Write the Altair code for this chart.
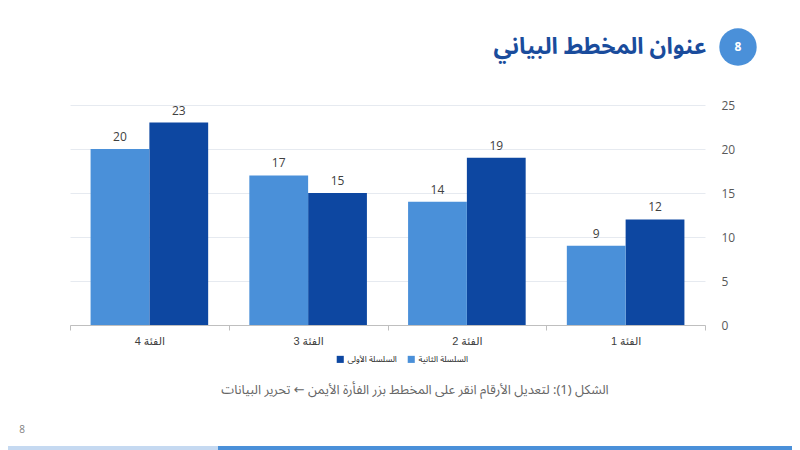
import altair as alt
import pandas as pd

categories = ['الفئة 1', 'الفئة 2', 'الفئة 3', 'الفئة 4']
series_names = ['السلسلة الأولى', 'السلسلة الثانية']
series1 = [12, 19, 15, 23]
series2 = [9, 14, 17, 20]
y_ticks = [0, 5, 10, 15, 20, 25]

title_text = 'عنوان المخطط البياني'
caption_text = 'الشكل (1): لتعديل الأرقام انقر على المخطط بزر الفأرة الأيمن ← تحرير البيانات'
slide_no = '8'

DARK = '#0D47A1'
LIGHT = '#4A90D9'
AR_FONT = 'Noto Sans Arabic, DejaVu Sans, sans-serif'

rows = []
for c, a, b in zip(categories, series1, series2):
    rows.append({'cat': c, 'series': series_names[0], 'value': a})
    rows.append({'cat': c, 'series': series_names[1], 'value': b})
df = pd.DataFrame(rows)

x_enc = alt.X('cat:N', sort=categories[::-1],
              scale=alt.Scale(paddingInner=0, paddingOuter=0),
              axis=alt.Axis(title=None, labelAngle=0, tickBand='extent',
                            tickSize=5, tickColor='#BFBFBF', domainColor='#BFBFBF',
                            labelFont='Liberation Sans, DejaVu Sans', labelFontSize=11,
                            labelColor='#404040', labelPadding=5, grid=False))
xoff_enc = alt.XOffset('series:N',
                       scale=alt.Scale(domain=series_names[::-1],
                                       paddingOuter=0.35, paddingInner=0))

base = alt.Chart(df)

bars = base.mark_bar().encode(
    x=x_enc,
    xOffset=xoff_enc,
    y=alt.Y('value:Q', scale=alt.Scale(domain=[0, 25], nice=False),
            axis=alt.Axis(title=None, orient='right', values=y_ticks,
                          domain=False, ticks=False, labelPadding=16,
                          labelFont='Open Sans', labelFontSize=12,
                          labelColor='#595959', gridColor='#E6EAF0')),
    color=alt.Color('series:N',
                    scale=alt.Scale(domain=series_names, range=[DARK, LIGHT]),
                    legend=alt.Legend(title=None, orient='none', direction='horizontal',
                                      legendX=266, legendY=250,
                                      symbolType='square', symbolSize=50,
                                      symbolStrokeWidth=0, labelFont=AR_FONT,
                                      labelFontSize=8.5, labelColor='#262626',
                                      labelOffset=3, columnPadding=10)),
)

labels = base.mark_text(baseline='bottom', dy=-5, font='Open Sans',
                        fontSize=12, color='#404040').encode(
    x=x_enc,
    xOffset=xoff_enc,
    y='value:Q',
    text='value:Q',
)

deco = pd.DataFrame({'title': [title_text], 'caption': [caption_text], 'num': [slide_no]})
dchart = alt.Chart(deco)

title = dchart.mark_text(font=AR_FONT, fontSize=23, fontWeight='bold', color='#1A4C9C',
                         align='center', baseline='middle').encode(
    x=alt.value(530), y=alt.value(-58), text='title:N')

circle = dchart.mark_circle(size=1400, color=LIGHT, opacity=1).encode(
    x=alt.value(668), y=alt.value(-58))

circle_num = dchart.mark_text(font='Open Sans', fontSize=12, fontWeight='bold',
                              color='white', baseline='middle').encode(
    x=alt.value(668), y=alt.value(-58), text='num:N')

caption = dchart.mark_text(font=AR_FONT, fontSize=13, color='#666666', dir='rtl',
                           align='center', baseline='middle').encode(
    x=alt.value(345), y=alt.value(285), text='caption:N')

page_no = dchart.mark_text(font='Open Sans', fontSize=10, color='#7F7F7F',
                           baseline='middle').encode(
    x=alt.value(-48), y=alt.value(325), text='num:N')

bar_light = dchart.mark_rect(color='#C5D9F1').encode(
    x=alt.value(-62), x2=alt.value(148), y=alt.value(341), y2=alt.value(345))
bar_dark = dchart.mark_rect(color=LIGHT).encode(
    x=alt.value(148), x2=alt.value(722), y=alt.value(341), y2=alt.value(345))

chart = alt.layer(bars, labels, title, circle, circle_num, caption, page_no,
                  bar_light, bar_dark).properties(
    width=635, height=220,
    autosize=alt.AutoSizeParams(type='none'),
    padding={'left': 62, 'top': 97, 'right': 87, 'bottom': 125},
    background='white',
).configure_view(stroke=None)

chart.save('out.html', embed_options={'renderer': 'svg', 'actions': False})
